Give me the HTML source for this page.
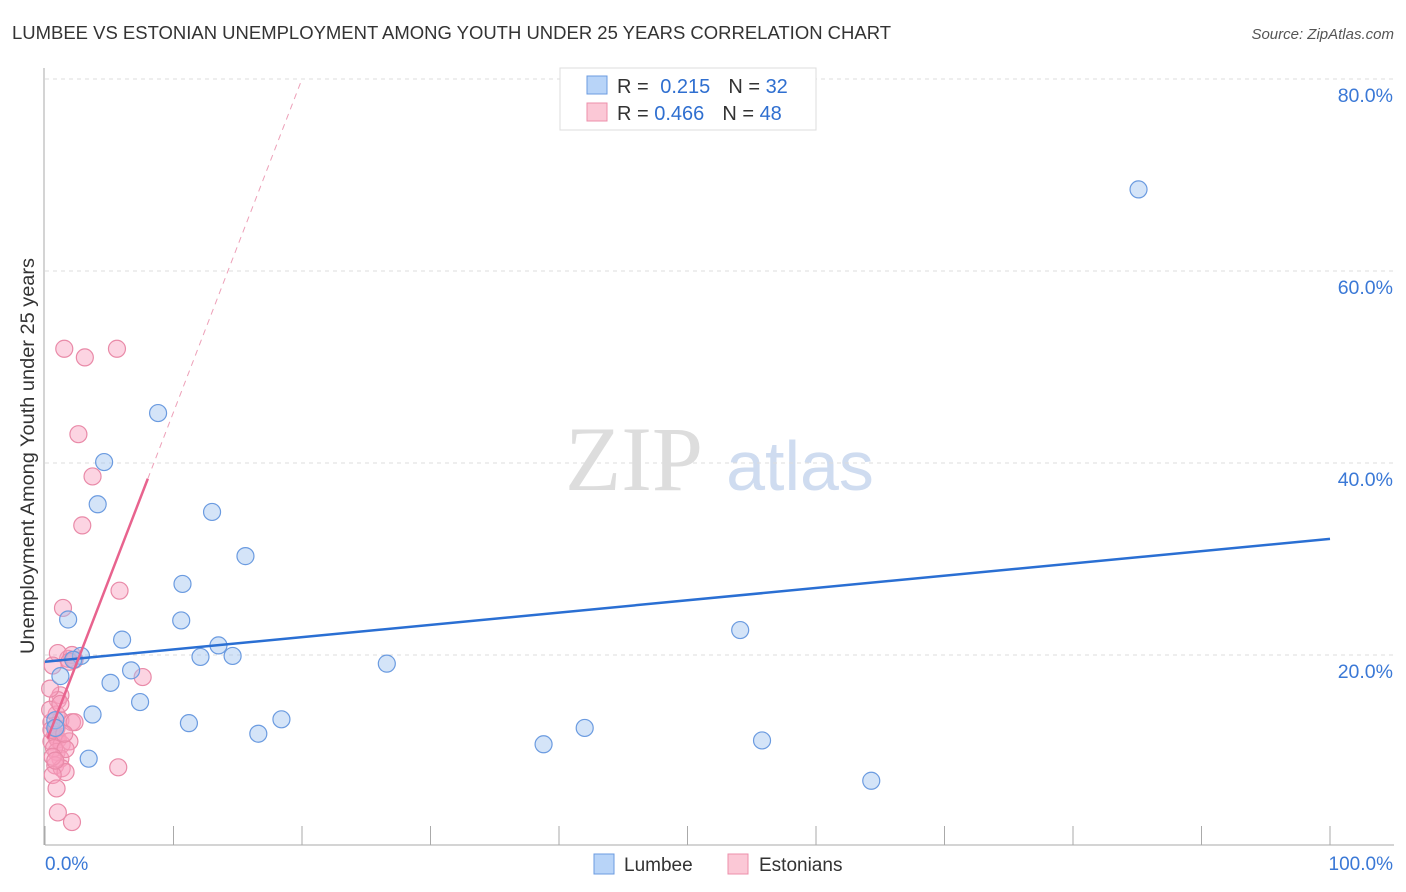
<!DOCTYPE html>
<html><head><meta charset="utf-8"><style>
body{margin:0;background:#fff;font-family:"Liberation Sans",sans-serif}
</style></head><body>
<svg id="c" width="1406" height="892" style="position:absolute;left:0;top:0">
<text x="12" y="39" font-size="18" fill="#333" textLength="879" lengthAdjust="spacingAndGlyphs">LUMBEE VS ESTONIAN UNEMPLOYMENT AMONG YOUTH UNDER 25 YEARS CORRELATION CHART</text>
<text x="1394" y="39" font-size="15" fill="#555" font-style="italic" text-anchor="end">Source: ZipAtlas.com</text>
<text x="34" y="456" font-size="19" fill="#333" text-anchor="middle" textLength="396" lengthAdjust="spacingAndGlyphs" transform="rotate(-90 34 456)">Unemployment Among Youth under 25 years</text>
<g><text x="634" y="490" font-size="92" font-family="Liberation Serif" fill="#ddd" text-anchor="middle">ZIP</text><text x="800" y="490" font-size="70" fill="#cfdcf0" text-anchor="middle">atlas</text></g>
<g id="grid"></g><g id="axes"></g><g id="marks"></g>
<g>
<rect x="560" y="68" width="256" height="62" fill="#fff" stroke="#ddd"/>
<rect x="587" y="76" width="20" height="18" fill="#b8d4f8" stroke="#6b9be0"/>
<rect x="587" y="103" width="20" height="18" fill="#fbc8d6" stroke="#ec8fab"/>
<text x="617" y="93" font-size="20" fill="#333">R = <tspan fill="#2f6fd0" dx="6">0.215</tspan><tspan dx="18" fill="#333">N = </tspan><tspan fill="#2f6fd0">32</tspan></text>
<text x="617" y="120" font-size="20" fill="#333">R = <tspan fill="#2f6fd0">0.466</tspan><tspan dx="18" fill="#333">N = </tspan><tspan fill="#2f6fd0">48</tspan></text>
</g>
<g>
<rect x="594" y="854" width="20" height="20" fill="#b8d4f8" stroke="#6b9be0"/>
<text x="624" y="871" font-size="19" fill="#333">Lumbee</text>
<rect x="728" y="854" width="20" height="20" fill="#fbc8d6" stroke="#ec8fab"/>
<text x="759" y="871" font-size="19" fill="#333">Estonians</text>
</g>
</svg>
<script>
const lumbeeX=[85.1,8.8,4.6,4.1,13,15.6,10.7,10.6,1.8,6,13.5,54.1,2.8,12.1,14.6,2.2,26.6,6.7,1.2,5.1,7.4,3.7,11.2,18.4,16.6,0.8,0.8,42,38.8,55.8,3.4,64.3];
const lumbeeY=[68.5,45.2,40.1,35.7,34.9,30.3,27.4,23.6,23.7,21.6,21,22.6,19.9,19.8,19.9,19.5,19.1,18.4,17.8,17.1,15.1,13.8,12.9,13.3,11.8,13.2,12.4,12.4,10.7,11.1,9.2,6.9];
const estX=[1.5,3.1,5.6,2.6,3.7,2.9,5.8,1.4,1.8,1,2.1,2.3,7.6,0.6,1.2,1,0.9,1.2,2.1,2.3,0.5,0.8,0.9,0.5,1,1.3,1.9,0.9,1.2,0.8,1.3,1.6,5.7,0.6,0.9,1,2.1,0.5,0.7,1.6,0.4,0.9,0.6,1.2,1.9,0.4,0.8,1.5];
const estY=[51.9,51,51.9,43,38.6,33.5,26.7,24.9,19.6,20.2,20,19.5,17.7,18.9,15.8,15.3,13.8,13.2,13,13,13,11.7,11.4,11,11.2,10.7,11,9.9,9.2,8.5,8.2,7.8,8.3,7.5,6.1,3.6,2.6,12.2,10.3,10.2,14.3,12.4,9.4,14.9,19.3,16.5,9,11.8];
const xTicks=[0,10,20,30,40,50,60,70,80,90,100];
const yTicks=[20,40,60,80];
const blueLine=[19.3,32.1];
const pinkIntercept=10.6, pinkSlope=3.47, pinkSolidEnd=8, pinkDashEnd=20;
const X=v=>45+v*12.85, Y=v=>847-v*9.6;
const NS='http://www.w3.org/2000/svg';
function mk(p,t,a){const e=document.createElementNS(NS,t);for(const k in a)e.setAttribute(k,a[k]);p.appendChild(e);return e;}
const grid=document.getElementById('grid'),axes=document.getElementById('axes'),marks=document.getElementById('marks');
yTicks.forEach(t=>{const l=mk(grid,'line',{x1:45,x2:1394,y1:Y(t),y2:Y(t),stroke:'#ddd','stroke-dasharray':'4,4'});


const tx=mk(axes,'text',{x:1393,y:Y(t)+23,'font-size':19.5,fill:'#3a78d6','text-anchor':'end'});tx.textContent=t.toFixed(1)+'%';

});
const ax=mk(axes,'line',{x1:45,x2:1394,y1:845,y2:845,stroke:'#aaa'});


const ay=mk(axes,'line',{x1:44,x2:44,y1:68,y2:845,stroke:'#aaa'});


xTicks.forEach(t=>{const l=mk(axes,'line',{x1:X(t),x2:X(t),y1:826,y2:845,stroke:'#aaa'});

});
[[0,'0.0%',45,'start'],[100,'100.0%',1393,'end']].forEach(a=>{const tx=mk(axes,'text',{x:a[2],y:870,'font-size':19,fill:'#3a78d6','text-anchor':a[3]});tx.textContent=a[1];

});
estX.forEach((v,i)=>{const c=mk(marks,'circle',{cx:X(v),cy:Y(estY[i]),r:8.5,fill:'rgba(248,160,190,0.45)',stroke:'#e98aa8','stroke-width':1.2});

});
lumbeeX.forEach((v,i)=>{const c=mk(marks,'circle',{cx:X(v),cy:Y(lumbeeY[i]),r:8.5,fill:'rgba(160,195,240,0.45)',stroke:'#6b9be0','stroke-width':1.2});

});
const bl=mk(marks,'line',{x1:X(0),y1:Y(blueLine[0]),x2:X(100),y2:Y(blueLine[1]),stroke:'#2a6fd3','stroke-width':2.5});


const pd=mk(marks,'line',{x1:X(pinkSolidEnd),y1:Y(pinkIntercept+pinkSlope*pinkSolidEnd),x2:X(pinkDashEnd),y2:Y(pinkIntercept+pinkSlope*pinkDashEnd),stroke:'#eda0b8','stroke-width':1,'stroke-dasharray':'6,5'});


const pl=mk(marks,'line',{x1:X(0.2),y1:Y(pinkIntercept+pinkSlope*0.2),x2:X(pinkSolidEnd),y2:Y(pinkIntercept+pinkSlope*pinkSolidEnd),stroke:'#e8638e','stroke-width':2.5});


</script>
</body></html>
